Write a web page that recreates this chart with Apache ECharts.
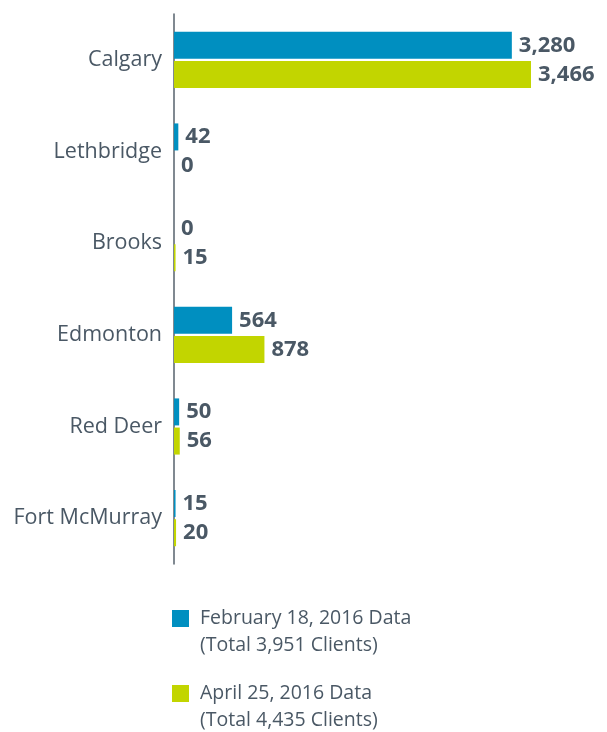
<!DOCTYPE html>
<html>
<head>
<meta charset="utf-8">
<script src="https://cdn.jsdelivr.net/npm/echarts@6/dist/echarts.min.js"></script>
<style>
  html, body { margin: 0; padding: 0; background: #fff; }
  #chart { width: 607px; height: 732px; }
</style>
</head>
<body>
<div id="chart"></div>
<script>
const cities = ["Calgary", "Lethbridge", "Brooks", "Edmonton", "Red Deer", "Fort McMurray"];
const febValues = [3280, 42, 0, 564, 50, 15];
const aprValues = [3466, 0, 15, 878, 56, 20];
const febName = "February 18, 2016 Data\n(Total 3,951 Clients)";
const aprName = "April 25, 2016 Data\n(Total 4,435 Clients)";

const textColor = "#4a5865";
const font = "'Open Sans', 'Noto Sans', sans-serif";

const myChart = echarts.init(document.getElementById("chart"));

const legendBase = {
  orient: "vertical",
  left: 172,
  padding: 0,
  itemWidth: 17,
  itemHeight: 17,
  icon: "rect",
  // leading blank line keeps the first line level with the square
  formatter: (name) => "\n" + name,
  textStyle: {
    color: textColor,
    fontFamily: font,
    fontSize: 19.5,
    lineHeight: 27,
    padding: [0, 0, 0, 6],
  },
};

const valueLabel = {
  show: true,
  position: "right",
  distance: 7,
  color: textColor,
  fontFamily: font,
  fontWeight: "bold",
  fontSize: 22,
  formatter: (p) => p.value.toLocaleString("en-US"),
};

myChart.setOption({
  animation: false,
  grid: { left: 174, right: 21, top: 14, bottom: 168, containLabel: false },
  legend: [
    Object.assign({}, legendBase, { top: 578, data: [febName] }),
    Object.assign({}, legendBase, { top: 653, data: [aprName] }),
  ],
  xAxis: {
    type: "value",
    min: 0,
    max: 4000,
    show: false,
  },
  yAxis: {
    type: "category",
    data: cities,
    inverse: true,
    axisLine: { show: true, lineStyle: { color: "#56626c", width: 1.5 } },
    axisTick: { show: false },
    axisLabel: {
      color: textColor,
      fontFamily: font,
      fontSize: 21.5,
      margin: 12,
    },
  },
  series: [
    {
      name: febName,
      type: "bar",
      data: febValues,
      barWidth: 27,
      barGap: "8%",
      itemStyle: { color: "#008fc0" },
      label: valueLabel,
    },
    {
      name: aprName,
      type: "bar",
      data: aprValues,
      barWidth: 27,
      barGap: "8%",
      itemStyle: { color: "#c2d500" },
      label: valueLabel,
    },
  ],
});
</script>
</body>
</html>
